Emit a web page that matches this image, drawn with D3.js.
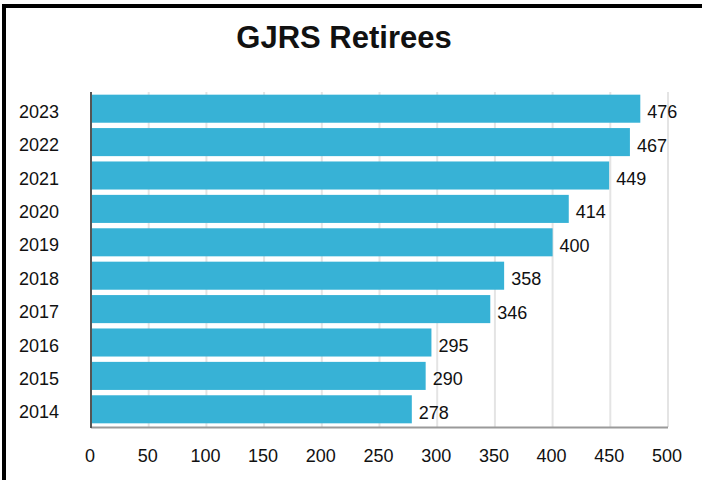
<!DOCTYPE html>
<html>
<head>
<meta charset="utf-8">
<script src="https://cdn.jsdelivr.net/npm/d3@7"></script>
<style>
  body { margin: 0; background: #fff; }
  text { font-family: "Liberation Sans", Arial, sans-serif; fill: #111; }
</style>
</head>
<body>
<svg id="chart" width="702" height="480"></svg>
<script>
  var years = ["2023", "2022", "2021", "2020", "2019", "2018", "2017", "2016", "2015", "2014"];
  var retirees = [476, 467, 449, 414, 400, 358, 346, 295, 290, 278];
  var xTicks = [0, 50, 100, 150, 200, 250, 300, 350, 400, 450, 500];

  var svg = d3.select("#chart");

  var margin = {top: 92, right: 34, bottom: 53, left: 91};

  // outer frame, only left and top edges show inside the window
  svg.append("rect")
      .attr("x", 4)
      .attr("y", 6)
      .attr("width", 720)
      .attr("height", 500)
      .attr("fill", "none")
      .attr("stroke", "#000")
      .attr("stroke-width", 4);

  var x = d3.scaleLinear()
      .domain([0, 500])
      .range([margin.left, 668]);

  var y = d3.scaleBand()
      .domain(years)
      .range([margin.top, 426])
      .paddingInner(0.16)
      .paddingOuter(0.08);

  // gridlines
  svg.append("g")
    .selectAll("line").data(xTicks.slice(1)).enter().append("line")
      .attr("x1", d => x(d))
      .attr("x2", d => x(d))
      .attr("y1", margin.top)
      .attr("y2", 427)
      .attr("stroke", "#e4e4e4")
      .attr("stroke-width", 2);

  svg.append("g")
    .selectAll("rect").data(retirees).enter().append("rect")
      .attr("x", x(0) + 1)
      .attr("y", (d, i) => y(years[i]))
      .attr("width", d => x(d) - x(0) - 1)
      .attr("height", y.bandwidth())
      .attr("fill", "#37b2d6");

  // value labels
  svg.append("g")
    .selectAll("text").data(retirees).enter().append("text")
      .attr("x", d => x(d) + 7)
      .attr("y", (d, i) => y(years[i]) + y.bandwidth() / 2 + 9.5)
      .style("font-size", "18px")
      .text(d => d);

  // year labels
  svg.append("g")
    .selectAll("text").data(years).enter().append("text")
      .attr("x", 59)
      .attr("y", d => y(d) + y.bandwidth() / 2 + 9)
      .attr("text-anchor", "end")
      .style("font-size", "18px")
      .text(d => d);

  // axis lines
  svg.append("line")
      .attr("x1", x(0))
      .attr("x2", x(500))
      .attr("y1", 427.5)
      .attr("y2", 427.5)
      .attr("stroke", "#9a9a9a")
      .attr("stroke-width", 2);

  svg.append("line")
      .attr("x1", x(0))
      .attr("x2", x(0))
      .attr("y1", margin.top)
      .attr("y2", 428)
      .attr("stroke", "#555")
      .attr("stroke-width", 2);

  // x tick labels
  svg.append("g")
    .selectAll("text").data(xTicks).enter().append("text")
      .attr("x", d => x(d) - 1)
      .attr("y", 462)
      .attr("text-anchor", "middle")
      .style("font-size", "18px")
      .text(d => d);

  svg.append("text")
      .attr("x", 344)
      .attr("y", 48)
      .attr("text-anchor", "middle")
      .style("font-size", "31px")
      .style("font-weight", "bold")
      .text("GJRS Retirees");
</script>
</body>
</html>
